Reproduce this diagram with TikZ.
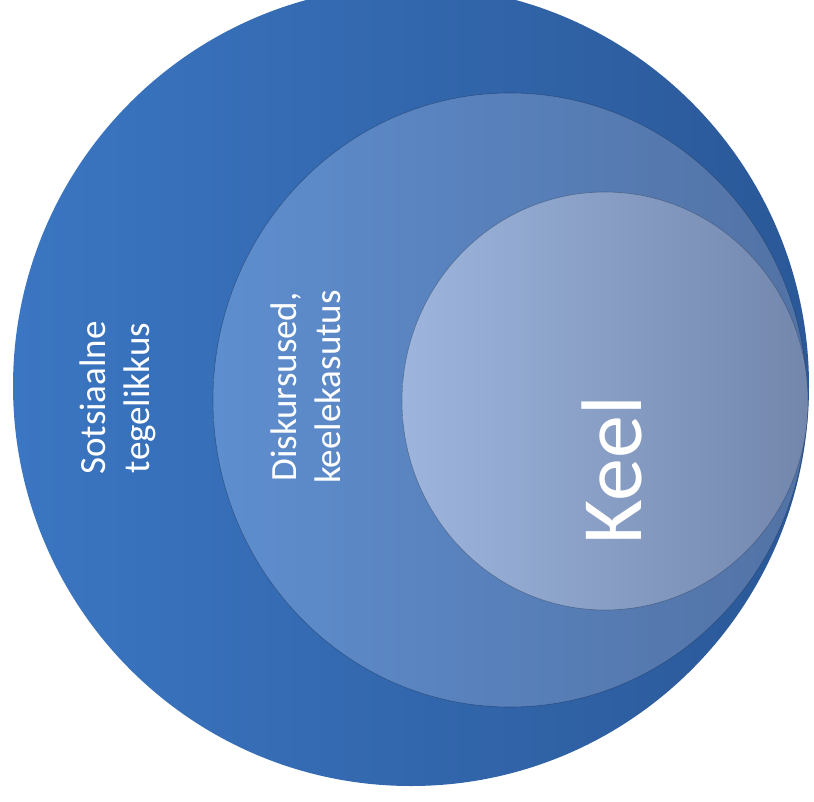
\documentclass[tikz,border=0pt]{standalone}
\usepackage{fontspec}
\usetikzlibrary{shapes.geometric}
\setmainfont{Carlito}
\definecolor{outerL}{HTML}{3B76C2}
\definecolor{outerR}{HTML}{2A5898}
\definecolor{midL}{HTML}{5E8ECF}
\definecolor{midR}{HTML}{5272A4}
\definecolor{innL}{HTML}{9DB5DD}
\definecolor{innR}{HTML}{7387AD}
\tikzset{
  ring/.style={ellipse, inner sep=0pt, outer sep=0pt, shading=axis, shading angle=90},
  lbl/.style={text=white, rotate=90, align=center, inner sep=0pt},
}
\begin{document}
\begin{tikzpicture}[x=1pt,y=-1pt]
\useasboundingbox (0,0) rectangle (814,801);
\clip (0,0) rectangle (814,801);
\node[ring, minimum width=796pt, minimum height=800pt, left color=outerL, right color=outerR] (outer) at (411,386) {};
\node[ring, minimum width=594pt, minimum height=614pt, left color=midL, right color=midR, draw=outerR!60!black, draw opacity=0.5, line width=0.6pt] (mid) at (510,400) {};
\node[ring, minimum width=406pt, minimum height=418pt, left color=innL, right color=innR, draw=midR!60!black, draw opacity=0.5, line width=0.6pt] (inn) at (605,401) {};
\node[lbl, font=\fontsize{37}{44}\selectfont] (soc) at (118,398) {Sotsiaalne\\tegelikkus};
\node[lbl, font=\fontsize{37}{44}\selectfont] (disk) at (306,387) {Diskursused,\\keelekasutus};
\node[lbl, font=\fontsize{86}{90}\selectfont] (keel) at (612,470) {Keel};
\end{tikzpicture}
\end{document}
